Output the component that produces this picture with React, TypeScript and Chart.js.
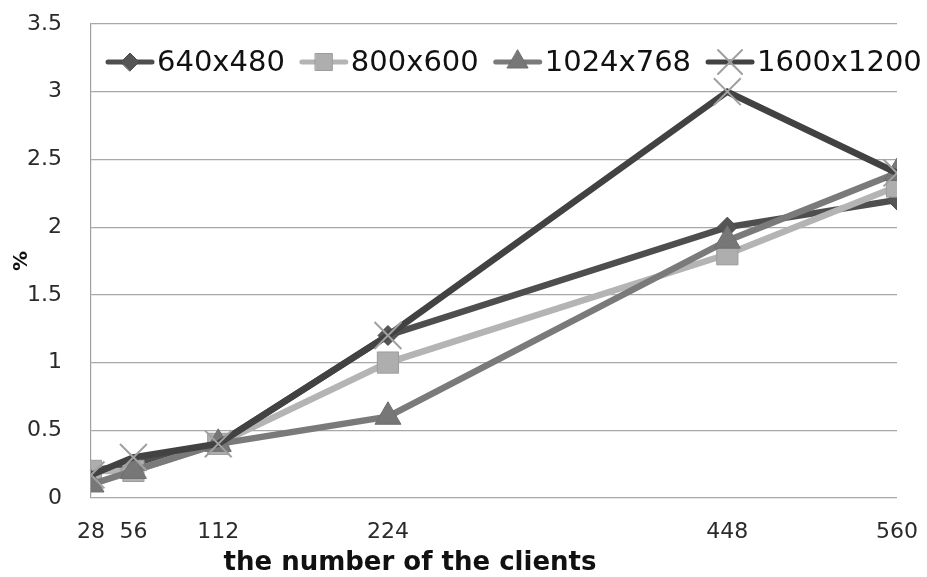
import React, { useEffect, useRef } from "react";
import { Chart, registerables } from "chart.js";
import { drawPoint } from "chart.js/helpers";

Chart.register(...registerables);

const clients = [28, 56, 112, 224, 448, 560];
const yTicks = [0, 0.5, 1, 1.5, 2, 2.5, 3, 3.5];
const seriesNames = ["640x480", "800x600", "1024x768", "1600x1200"];
const s640 = [0.2, 0.25, 0.4, 1.2, 2.0, 2.2];
const s800 = [0.2, 0.2, 0.4, 1.0, 1.8, 2.3];
const s1024 = [0.1, 0.2, 0.4, 0.6, 1.9, 2.4];
const s1600 = [0.17, 0.3, 0.4, 1.2, 3.0, 2.4];
const xTitle = "the number of the clients";
const yTitle = "%";

const styles = [
  { line: "#4e4e4e", fill: "#555555", border: "#4a4a4a", shape: "rectRot", r: 10, lr: 9, bw: 1, order: 4 },
  { line: "#b4b4b4", fill: "#aeaeae", border: "#9c9c9c", shape: "rect", r: 15, lr: 12, bw: 1, order: 3 },
  { line: "#7a7a7a", fill: "#777777", border: "#6e6e6e", shape: "triangle", r: 15, lr: 12, bw: 1, order: 2 },
  { line: "#424242", fill: "rgba(0,0,0,0)", border: "#a0a0a0", shape: "crossRot", r: 19, lr: 17, bw: 2, order: 1 },
];

const FONT = "'DejaVu Sans', sans-serif";

const legendPlugin = {
  id: "customLegend",
  afterDraw(chart: any) {
    const ctx = chart.ctx;
    ctx.save();
    ctx.font = `29px ${FONT}`;
    ctx.textBaseline = "middle";
    ctx.textAlign = "left";
    let x = 108;
    const y = 62;
    chart.data.datasets.forEach((ds: any, i: number) => {
      const st = styles[i];
      ctx.strokeStyle = st.line;
      ctx.lineWidth = 5;
      ctx.lineCap = "round";
      ctx.beginPath();
      ctx.moveTo(x, y);
      ctx.lineTo(x + 44, y);
      ctx.stroke();
      ctx.fillStyle = st.fill;
      ctx.strokeStyle = st.border;
      ctx.lineWidth = st.bw;
      drawPoint(ctx, { pointStyle: st.shape, radius: st.lr, rotation: 0, borderWidth: st.bw }, x + 22, y);
      ctx.fillStyle = "#111111";
      ctx.fillText(ds.label, x + 49, y + 1);
      const w = ctx.measureText(ds.label).width;
      x = x + 49 + w + 17;
    });
    // x axis title, placed like the original (left of centre)
    ctx.font = `bold 26px ${FONT}`;
    ctx.textAlign = "center";
    ctx.fillText(xTitle, 410, 563);
    ctx.restore();
  },
};

const noPad = (s: any) => {
  s.paddingTop = 0;
  s.paddingBottom = 0;
  s.paddingLeft = 0;
  s.paddingRight = 0;
};

export default function App() {
  const ref = useRef<HTMLCanvasElement>(null);
  useEffect(() => {
    if (!ref.current) return;
    const all = [s640, s800, s1024, s1600];
    const chart = new Chart(ref.current, {
      type: "line",
      data: {
        datasets: all.map((vals, i) => ({
          label: seriesNames[i],
          data: clients.map((c, j) => ({ x: c, y: vals[j] })),
          borderColor: styles[i].line,
          backgroundColor: styles[i].fill,
          pointBackgroundColor: styles[i].fill,
          pointBorderColor: styles[i].border,
          pointBorderWidth: styles[i].bw,
          pointStyle: styles[i].shape as any,
          pointRadius: styles[i].r,
          borderWidth: 6.5,
          tension: 0,
          order: styles[i].order,
        })),
      },
      options: {
        animation: false,
        responsive: false,
        events: [],
        layout: { padding: { top: 24, right: 30, left: 0, bottom: 0 } },
        plugins: { legend: { display: false }, tooltip: { enabled: false } },
        scales: {
          x: {
            type: "linear",
            min: 28,
            max: 560,
            afterBuildTicks: (s: any) => {
              s.ticks = clients.map((v) => ({ value: v }));
            },
            afterFit: (s: any) => {
              s.height = 79;
              noPad(s);
            },
            grid: { display: false, drawTicks: false },
            border: { display: false },
            ticks: {
              autoSkip: false,
              maxRotation: 0,
              padding: 21,
              color: "#2a2a2a",
              font: { family: FONT, size: 22 },
              callback: (v: any) => String(v),
            },
          },
          y: {
            min: 0,
            max: 3.5,
            afterBuildTicks: (s: any) => {
              s.ticks = yTicks.map((v) => ({ value: v }));
            },
            afterFit: (s: any) => {
              s.width = 91;
              noPad(s);
            },
            grid: { color: "#a8a8a8", lineWidth: 1.2, drawTicks: false },
            border: { display: true, color: "#a0a0a0", width: 1.2 },
            ticks: {
              padding: 29,
              color: "#2a2a2a",
              font: { family: FONT, size: 22 },
              callback: (v: any) => String(v),
            },
            title: {
              display: true,
              text: yTitle,
              color: "#111111",
              font: { family: FONT, size: 20, weight: "bold" },
              padding: { top: 10, bottom: 0 },
            },
          },
        },
      },
      plugins: [legendPlugin],
    });
    return () => chart.destroy();
  }, []);
  return (
    <div style={{ position: "absolute", left: 0, top: 0, width: 927, height: 577, background: "#ffffff" }}>
      <canvas ref={ref} width={927} height={577} />
    </div>
  );
}
